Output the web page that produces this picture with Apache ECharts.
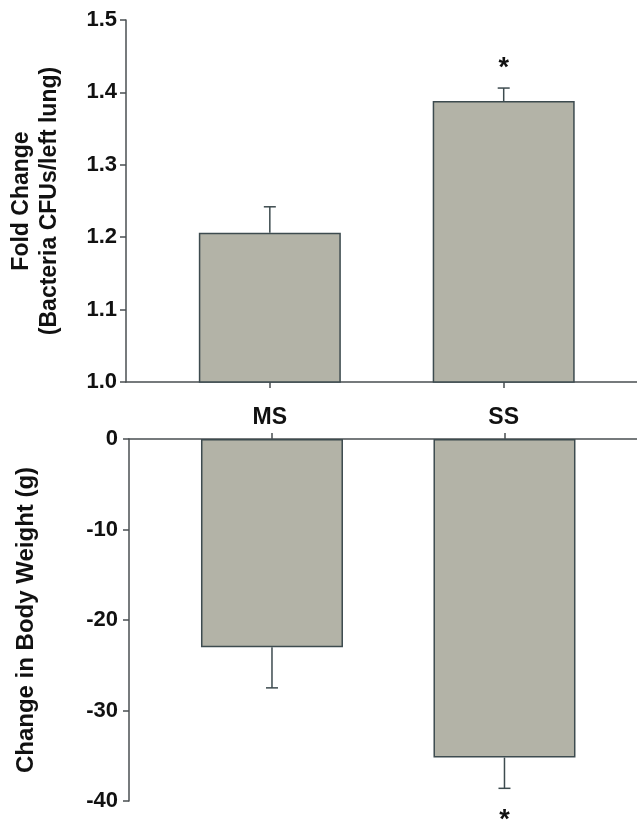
<!DOCTYPE html>
<html>
<head>
<meta charset="utf-8">
<script src="https://cdn.jsdelivr.net/npm/echarts@6/dist/echarts.min.js"></script>
<style>
  html, body { margin: 0; padding: 0; background: #fff; }
  #main { width: 637px; height: 821px; }
</style>
</head>
<body>
<div id="main"></div>
<script>
// groups
var categories = ['MS', 'SS'];

// top panel: fold change in lung bacteria
var foldChange = [1.206, 1.388];
var foldErr = [0.036, 0.018];
var foldSig = [false, true];

// bottom panel: change in body weight (g)
var weightChange = [-23.0, -35.2];
var weightErr = [4.5, 3.4];
var weightSig = [false, true];

var foldTicks = [1.0, 1.1, 1.2, 1.3, 1.4, 1.5];
var weightTicks = [0, -10, -20, -30, -40];

var BAR = '#b3b3a7';
var EDGE = '#3d4b4f';
var AXIS = '#4a4f52';
var FONT = 'Liberation Sans, Arial, sans-serif';

var pos = categories.map(function (c, i) { return i + 1; });

function errSeries(xi, yi, vals, errs, sig) {
    return {
        type: 'custom',
        xAxisIndex: xi,
        yAxisIndex: yi,
        z: 3,
        data: vals.map(function (v, i) { return [pos[i], v, errs[i], sig[i] ? 1 : 0]; }),
        renderItem: function (params, api) {
            var x = api.value(0), y = api.value(1), e = api.value(2);
            var dir = y < 0 ? -1 : 1;
            var p0 = api.coord([x, y]);
            var p1 = api.coord([x, y + dir * e]);
            var children = [
                {type: 'line', shape: {x1: p0[0], y1: p0[1], x2: p1[0], y2: p1[1]}, style: {stroke: EDGE, lineWidth: 1.5}},
                {type: 'line', shape: {x1: p1[0] - 6, y1: p1[1], x2: p1[0] + 6, y2: p1[1]}, style: {stroke: EDGE, lineWidth: 1.5}}
            ];
            if (api.value(3)) {
                children.push({
                    type: 'text',
                    style: {
                        text: '*', x: p1[0], y: p1[1] + (dir > 0 ? -20 : 32),
                        fill: '#111', font: 'bold 27px ' + FONT,
                        align: 'center', verticalAlign: 'middle'
                    }
                });
            }
            return {type: 'group', children: children};
        }
    };
}

var chart = echarts.init(document.getElementById('main'));
chart.setOption({
    backgroundColor: '#fff',
    animation: false,
    grid: [
        {left: 126, right: 0, top: 20, height: 362},
        {left: 129, right: 0, top: 439, height: 362}
    ],
    xAxis: [{
        type: 'value',
        gridIndex: 0,
        min: 0.385,
        max: 2.57,
        position: 'bottom',
        splitLine: {show: false},
        axisLine: {onZero: false, lineStyle: {color: AXIS, width: 1.5}},
        axisTick: {customValues: pos, length: 6, lineStyle: {color: AXIS, width: 1.5}},
        axisLabel: {
            customValues: pos,
            margin: 24,
            color: '#111',
            fontFamily: FONT,
            fontWeight: 'bold',
            fontSize: 23,
            formatter: function (v) { return categories[Math.round(v) - 1]; }
        }
    }, {
        type: 'value',
        gridIndex: 1,
        min: 0.385,
        max: 2.57,
        position: 'top',
        splitLine: {show: false},
        axisLine: {onZero: false, lineStyle: {color: AXIS, width: 1.5}},
        axisTick: {customValues: pos, length: 6, lineStyle: {color: AXIS, width: 1.5}},
        axisLabel: {show: false}
    }],
    yAxis: [{
        type: 'value',
        gridIndex: 0,
        min: foldTicks[0],
        max: foldTicks[foldTicks.length - 1],
        interval: 0.1,
        name: 'Fold Change\n(Bacteria CFUs/left lung)',
        nameLocation: 'middle',
        nameGap: 62,
        nameTextStyle: {color: '#111', fontFamily: FONT, fontWeight: 'bold', fontSize: 23, lineHeight: 28},
        splitLine: {show: false},
        axisLine: {show: true, onZero: false, lineStyle: {color: AXIS, width: 1.5}},
        axisTick: {show: true, length: 6, lineStyle: {color: AXIS, width: 1.5}},
        axisLabel: {
            margin: 9, color: '#111', fontFamily: FONT, fontWeight: 'bold', fontSize: 22,
            formatter: function (v) { return v.toFixed(1); }
        }
    }, {
        type: 'value',
        gridIndex: 1,
        min: weightTicks[weightTicks.length - 1],
        max: weightTicks[0],
        interval: 10,
        name: 'Change in Body Weight (g)',
        nameLocation: 'middle',
        nameGap: 91,
        nameTextStyle: {color: '#111', fontFamily: FONT, fontWeight: 'bold', fontSize: 24},
        splitLine: {show: false},
        axisLine: {show: true, onZero: false, lineStyle: {color: AXIS, width: 1.5}},
        axisTick: {show: true, length: 6, lineStyle: {color: AXIS, width: 1.5}},
        axisLabel: {margin: 11, color: '#111', fontFamily: FONT, fontWeight: 'bold', fontSize: 22}
    }],
    series: [{
        type: 'bar',
        xAxisIndex: 0,
        yAxisIndex: 0,
        barWidth: 142,
        data: foldChange.map(function (v, i) { return [pos[i], v]; }),
        itemStyle: {color: BAR, borderColor: EDGE, borderWidth: 1.5}
    }, {
        type: 'bar',
        xAxisIndex: 1,
        yAxisIndex: 1,
        barWidth: 142,
        data: weightChange.map(function (v, i) { return [pos[i], v]; }),
        itemStyle: {color: BAR, borderColor: EDGE, borderWidth: 1.5}
    },
        errSeries(0, 0, foldChange, foldErr, foldSig),
        errSeries(1, 1, weightChange, weightErr, weightSig)
    ]
});
</script>
</body>
</html>
